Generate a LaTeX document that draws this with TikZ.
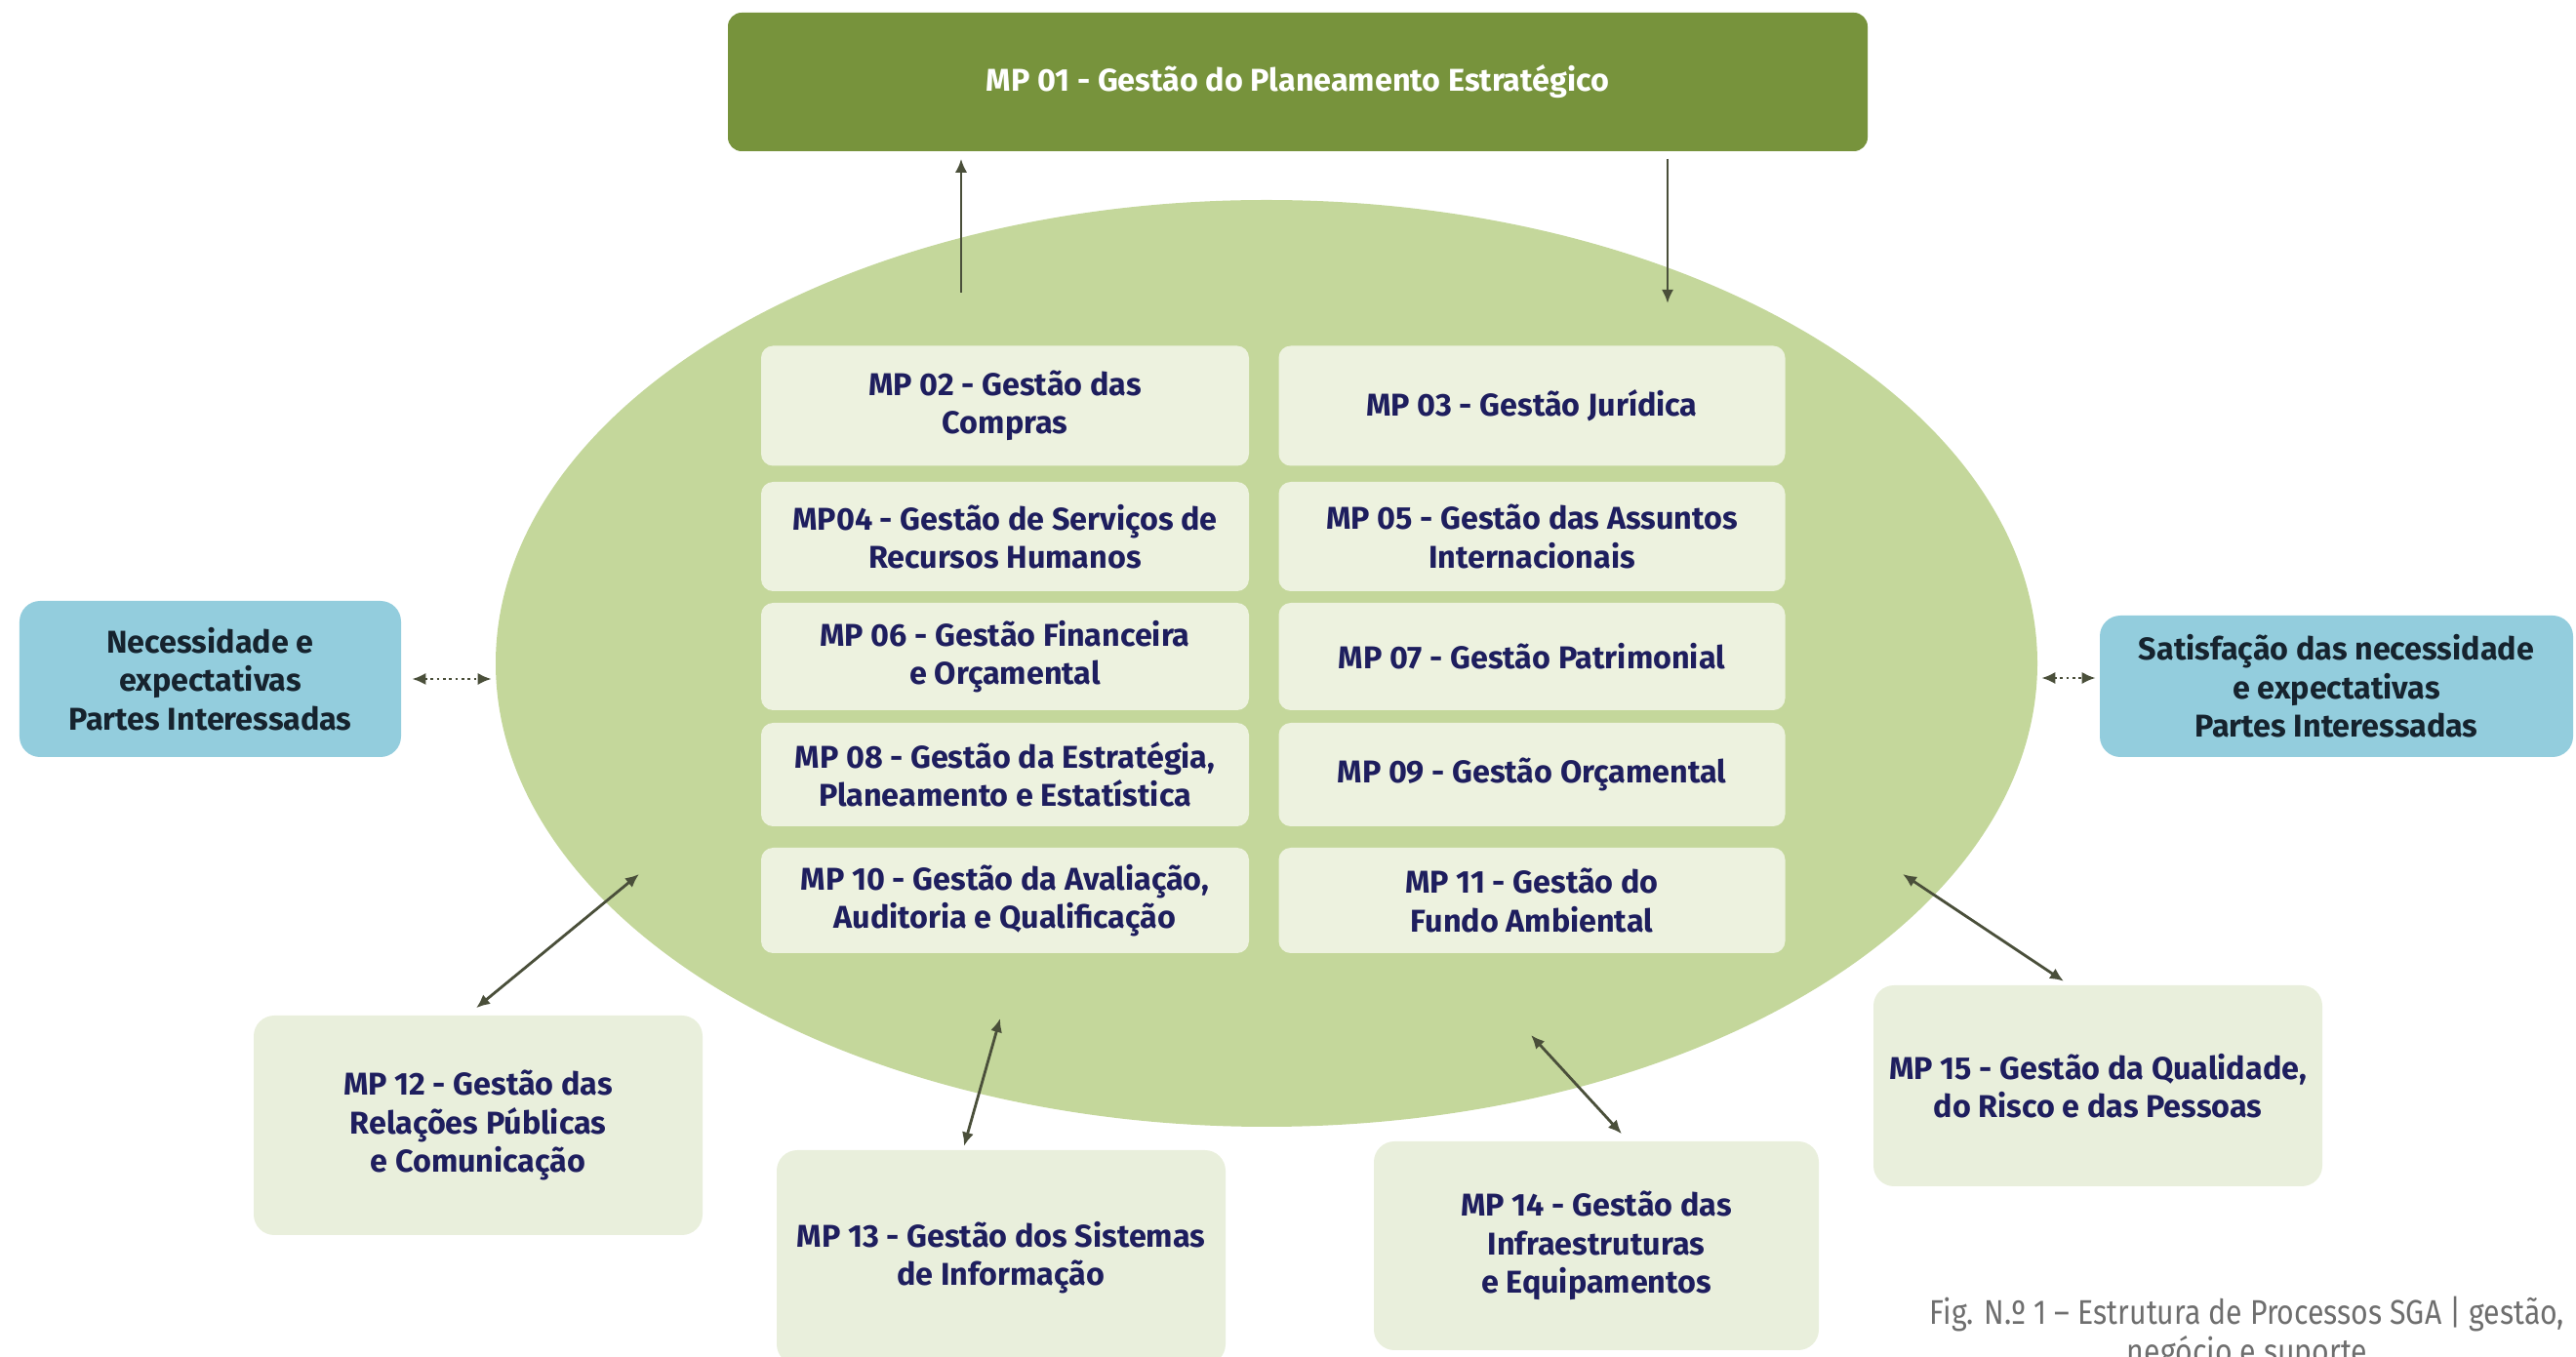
\documentclass[tikz,border=0pt]{standalone}
\usepackage{fontspec}
\setmainfont{Fira Sans}
\newfontfamily\capfont{Fira Sans}[FakeStretch=0.86]
\usetikzlibrary{shapes.geometric,arrows.meta}
\definecolor{mpdark}{HTML}{77933C}
\definecolor{mpoval}{HTML}{C4D79B}
\definecolor{mpcell}{HTML}{EDF2DF}
\definecolor{mpouter}{HTML}{E9EFDC}
\definecolor{mpblue}{HTML}{93CDDD}
\definecolor{mptext}{HTML}{1E1E5E}
\definecolor{mpink}{HTML}{16232E}
\definecolor{mparrow}{HTML}{4A4F3A}
\definecolor{mpcap}{HTML}{6E6E6E}
\begin{document}
\begin{tikzpicture}[
  boxtext/.style={align=center,inner sep=0pt,font=\fontsize{9.2}{11.2}\selectfont\bfseries},
  cell/.style={boxtext,fill=mpcell,text=mptext,rounded corners=3.5pt,minimum height=1.12cm},
  leftcell/.style={cell,minimum width=5cm},
  rightcell/.style={cell,minimum width=5.19cm},
  outer/.style={boxtext,fill=mpouter,text=mptext,rounded corners=6pt,minimum width=4.6cm},
  party/.style={boxtext,fill=mpblue,text=mpink,rounded corners=6pt},
  link/.style={draw=mparrow,line width=0.8pt,{Latex[length=4pt,width=3.5pt]}-{Latex[length=4pt,width=3.5pt]}},
  flow/.style={draw=mparrow,line width=0.8pt,-{Latex[length=4pt,width=3.5pt]}}
]
\useasboundingbox (0,0) rectangle (26.4,13.91);

\node[boxtext,fill=mpdark,text=white,rounded corners=4pt,minimum width=11.68cm,minimum height=1.42cm] (mp01) at (13.30,13.07) {MP 01 - Gestão do Planeamento Estratégico};

\node[ellipse,fill=mpoval,minimum width=15.8cm,minimum height=9.5cm,inner sep=0pt] (oval) at (12.98,7.11) {};

\coordinate (up) at (9.85,10.91);
\coordinate (down) at (17.09,10.80);
\draw[flow] (up) -- ([yshift=-2pt]up |- mp01.south);
\draw[flow] ([yshift=-2pt]mp01.south -| down) -- (down);

\node[leftcell,minimum height=1.23cm] (mp02) at (10.30,9.75) {MP 02 - Gestão das\\Compras};
\node[rightcell,minimum height=1.23cm] (mp03) at (15.70,9.75) {MP 03 - Gestão Jurídica};
\node[leftcell] (mp04) at (10.30,8.41) {MP04 - Gestão de Serviços de\\Recursos Humanos};
\node[rightcell] (mp05) at (15.70,8.41) {MP 05 - Gestão das Assuntos\\Internacionais};
\node[leftcell,minimum height=1.1cm] (mp06) at (10.30,7.18) {MP 06 - Gestão Financeira\\e Orçamental};
\node[rightcell,minimum height=1.1cm] (mp07) at (15.70,7.18) {MP 07 - Gestão Patrimonial};
\node[leftcell,minimum height=1.06cm] (mp08) at (10.30,5.97) {MP 08 - Gestão da Estratégia,\\Planeamento e Estatística};
\node[rightcell,minimum height=1.06cm] (mp09) at (15.70,5.97) {MP 09 - Gestão Orçamental};
\node[leftcell,minimum height=1.08cm] (mp10) at (10.30,4.68) {MP 10 - Gestão da Avaliação,\\Auditoria e Qualificação};
\node[rightcell,minimum height=1.08cm] (mp11) at (15.70,4.68) {MP 11 - Gestão do\\Fundo Ambiental};

\node[party,minimum width=3.91cm,minimum height=1.6cm] (needs) at (2.155,6.95) {Necessidade e\\expectativas\\Partes Interessadas};
\node[party,minimum width=4.85cm,minimum height=1.45cm] (satisf) at (23.945,6.875) {Satisfação das necessidade\\e expectativas\\Partes Interessadas};
\draw[link,densely dotted,shorten <=3pt,shorten >=1pt] (needs.east) -- (needs.east -| oval.west);
\draw[link,densely dotted,shorten <=1pt,shorten >=1pt] ([yshift=-0.15cm]oval.east) -- ([yshift=-0.15cm]oval.east -| satisf.west);

\node[outer,minimum height=2.25cm] (mp12) at (4.90,2.375) {MP 12 - Gestão das\\Relações Públicas\\e Comunicação};
\node[outer,minimum height=2.2cm] (mp13) at (10.26,1.02) {MP 13 - Gestão dos Sistemas\\de Informação};
\node[outer,minimum width=4.56cm,minimum height=2.14cm] (mp14) at (16.36,1.14) {MP 14 - Gestão das\\Infraestruturas\\e Equipamentos};
\node[outer,minimum height=2.06cm] (mp15) at (21.50,2.78) {MP 15 - Gestão da Qualidade,\\do Risco e das Pessoas};

\coordinate (in12) at (6.55,4.95);
\coordinate (in13) at (10.25,3.47);
\coordinate (in14) at (15.69,3.30);
\coordinate (in15) at (19.50,4.95);
\draw[link] (in12) -- ([xshift=-0.02cm,yshift=2pt]mp12.north);
\draw[link] (in13) -- ([xshift=-0.38cm,yshift=1pt]mp13.north);
\draw[link] (in14) -- ([xshift=0.26cm,yshift=2pt]mp14.north);
\draw[link] (in15) -- ([xshift=-0.35cm,yshift=1pt]mp15.north);

\node[align=center,text=mpcap,inner sep=0pt,font=\capfont\fontsize{10}{9.6}\selectfont] (caption) at (23.03,0.24) {Fig. N.º 1 – Estrutura de Processos SGA | gestão,\\negócio e suporte};
\end{tikzpicture}
\end{document}
